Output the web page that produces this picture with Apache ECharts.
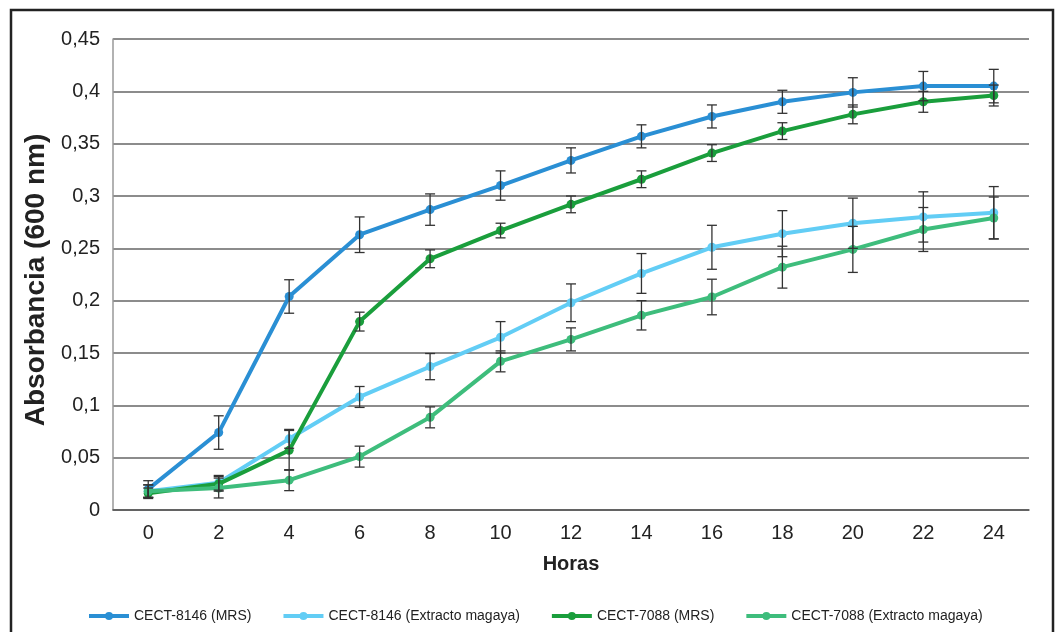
<!DOCTYPE html>
<html>
<head>
<meta charset="utf-8">
<script src="https://cdn.jsdelivr.net/npm/echarts@6/dist/echarts.min.js"></script>
<style>
html,body{margin:0;padding:0;background:#fff;}
#c{width:1058px;height:632px;}
</style>
</head>
<body>
<div id="c"></div>
<script>
const hours = ['0','2','4','6','8','10','12','14','16','18','20','22','24'];
const seriesNames = ['CECT-8146 (MRS)','CECT-8146 (Extracto magaya)','CECT-7088 (MRS)','CECT-7088 (Extracto magaya)'];
const yTitle = 'Absorbancia (600 nm)';
const xTitle = 'Horas';

const mrs8146 = [0.020, 0.074, 0.204, 0.263, 0.287, 0.310, 0.334, 0.357, 0.376, 0.390, 0.399, 0.405, 0.405];
const err8146 = [0.008, 0.016, 0.016, 0.017, 0.015, 0.014, 0.012, 0.011, 0.011, 0.011, 0.014, 0.014, 0.016];

const mag8146 = [0.018, 0.026, 0.068, 0.108, 0.137, 0.165, 0.198, 0.226, 0.251, 0.264, 0.274, 0.280, 0.284];
const errMag8146 = [0.006, 0.007, 0.009, 0.010, 0.0125, 0.015, 0.018, 0.019, 0.021, 0.022, 0.024, 0.024, 0.025];

const mrs7088 = [0.016, 0.025, 0.057, 0.180, 0.240, 0.267, 0.292, 0.316, 0.341, 0.362, 0.378, 0.390, 0.396];
const err7088 = [0.005, 0.007, 0.019, 0.009, 0.0085, 0.007, 0.008, 0.008, 0.008, 0.008, 0.009, 0.010, 0.010];

const mag7088 = [0.018, 0.021, 0.0285, 0.051, 0.0885, 0.142, 0.163, 0.186, 0.2035, 0.232, 0.249, 0.268, 0.279];
const errMag7088 = [0.006, 0.0095, 0.010, 0.010, 0.010, 0.010, 0.011, 0.014, 0.017, 0.020, 0.022, 0.021, 0.020];

const colors = ['#2a8fd4', '#62cdf5', '#1a9e3c', '#3ebd7c'];
const values = [mrs8146, mag8146, mrs7088, mag7088];
const errors = [err8146, errMag8146, err7088, errMag7088];

const FONT = '"Liberation Sans", Arial, Helvetica, sans-serif';

const chart = echarts.init(document.getElementById('c'), null, {renderer: 'canvas'});

const lineSeries = values.map((v, k) => ({
  name: seriesNames[k],
  type: 'line',
  data: v,
  color: colors[k],
  lineStyle: {width: 4, color: colors[k]},
  itemStyle: {color: colors[k]},
  symbol: 'circle',
  symbolSize: 9,
  showAllSymbol: true,
  z: 2 + k
}));

function errRender(params, api) {
  const x = api.value(0);
  const v = api.value(1);
  const e = api.value(2);
  const top = api.coord([x, v + e]);
  const bot = api.coord([x, v - e]);
  const hw = 5;
  const style = {stroke: '#333', lineWidth: 1.3};
  return {
    type: 'group',
    children: [
      {type: 'line', shape: {x1: top[0], y1: top[1], x2: bot[0], y2: bot[1]}, style: style},
      {type: 'line', shape: {x1: top[0] - hw, y1: top[1], x2: top[0] + hw, y2: top[1]}, style: style},
      {type: 'line', shape: {x1: bot[0] - hw, y1: bot[1], x2: bot[0] + hw, y2: bot[1]}, style: style}
    ]
  };
}

const errSeries = values.map((v, k) => ({
  type: 'custom',
  name: seriesNames[k] + ' err',
  renderItem: errRender,
  data: hours.map((h, i) => [i, v[i], errors[k][i]]),
  encode: {x: 0, y: 1},
  z: 10,
  silent: true
}));

chart.setOption({
  animation: false,
  backgroundColor: '#fff',
  textStyle: {fontFamily: FONT},
  graphic: [{
    type: 'rect',
    shape: {x: 11, y: 10, width: 1042, height: 660},
    style: {fill: 'none', stroke: '#222', lineWidth: 2.5},
    z: 100
  }, {
    type: 'text',
    x: 36,
    y: 280,
    rotation: Math.PI / 2,
    style: {
      text: yTitle,
      fill: '#222',
      font: 'bold 28px ' + FONT,
      align: 'center',
      verticalAlign: 'middle'
    },
    z: 100
  }],
  grid: {left: 113, right: 29, top: 39, bottom: 122},
  legend: {
    data: seriesNames,
    left: 82,
    top: 604,
    itemWidth: 40,
    itemHeight: 10,
    itemGap: 30,
    lineStyle: {width: 4},
    textStyle: {fontFamily: FONT, fontSize: 14, color: '#222'}
  },
  xAxis: {
    type: 'category',
    data: hours,
    boundaryGap: true,
    name: xTitle,
    nameLocation: 'middle',
    nameGap: 44,
    nameTextStyle: {fontFamily: FONT, fontSize: 20, fontWeight: 'bold', color: '#222'},
    axisLine: {lineStyle: {color: '#555', width: 1.5}},
    axisTick: {show: false},
    axisLabel: {fontFamily: FONT, fontSize: 20, color: '#222', margin: 13}
  },
  yAxis: {
    type: 'value',
    min: 0,
    max: 0.45,
    interval: 0.05,
    axisLine: {show: true, lineStyle: {color: '#999', width: 1.5}},
    axisTick: {show: false},
    axisLabel: {
      fontFamily: FONT, fontSize: 20, color: '#222', margin: 13,
      formatter: v => String(Math.round(v * 100) / 100).replace('.', ',')
    },
    splitLine: {lineStyle: {color: '#666', width: 1.5}}
  },
  series: lineSeries.concat(errSeries)
});
</script>
</body>
</html>
